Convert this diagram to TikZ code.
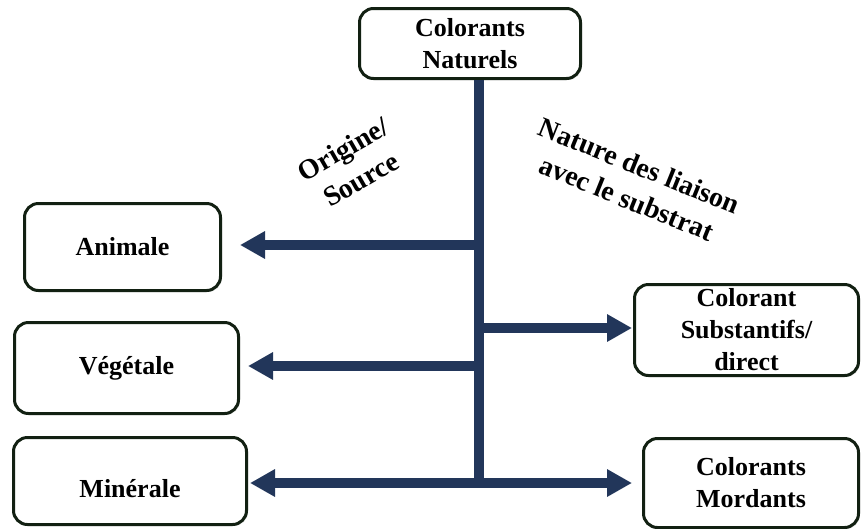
\documentclass[tikz,border=0pt]{standalone}
\usepackage{fontspec}
\setmainfont{Liberation Serif}
\usetikzlibrary{arrows.meta,shadows}
\definecolor{trunk}{RGB}{34,54,90}
\definecolor{boxline}{RGB}{18,32,18}
\tikzset{
  catbox/.style={draw=boxline, line width=3pt, rounded corners=14pt, fill=white,
    align=center, inner sep=0pt, font=\fontsize{26}{32}\selectfont\bfseries,
    drop shadow={shadow xshift=1.5pt, shadow yshift=-1.5pt, opacity=0.2}},
  link/.style={draw=trunk, line width=10pt},
  arr/.style={link, -{Triangle[length=25pt,width=26pt]}},
  tag/.style={align=center, font=\fontsize{28}{35}\selectfont\bfseries, inner sep=0pt}
}
\begin{document}
\begin{tikzpicture}[x=1pt, y=-1pt]
\useasboundingbox (0,0) rectangle (861,528);

% category boxes
\node[catbox, minimum width=221pt, minimum height=70pt] (top) at (470,43.5) {Colorants\\Naturels};
\node[catbox, minimum width=196pt, minimum height=87pt] (ani) at (122.5,247) {Animale};
\node[catbox, minimum width=224pt, minimum height=91pt] (veg) at (126.5,368) {Végétale};
\node[catbox, minimum width=233pt, minimum height=87pt] (min) at (130,481) {\raisebox{-16pt}[0pt][0pt]{Minérale}};
\node[catbox, minimum width=224pt, minimum height=91pt] (sub) at (746.5,330) {Colorant\\Substantifs/\\direct};
\node[catbox, minimum width=215pt, minimum height=89pt] (mor) at (751,483) {Colorants\\Mordants};

% branch points on the trunk
\coordinate (jA) at (479,245);
\coordinate (jV) at (479,366);
\coordinate (jS) at (479,328);
\coordinate (jM) at (479,483);
\coordinate (jEnd) at (479,488);

% trunk
\draw[link] (top.south -| jA) -- (jEnd);

% branches
\draw[arr, shorten >=18pt] (jA) -- (ani.east |- jA);
\draw[arr, shorten >=8pt] (jV) -- (veg.east |- jV);
\draw[arr, shorten >=2pt] (jM) -- (min.east |- jM);
\draw[arr, shorten >=1pt] (jS) -- (sub.west |- jS);
\draw[arr, shorten >=10pt] (jM) -- (mor.west |- jM);

% branch labels
\node[tag, rotate=30] (orig) at (352,164) {Origine/\\Source};
\node[tag, rotate=-22] (nat) at (633,182) {Nature des liaison\\avec le substrat};
\end{tikzpicture}
\end{document}
